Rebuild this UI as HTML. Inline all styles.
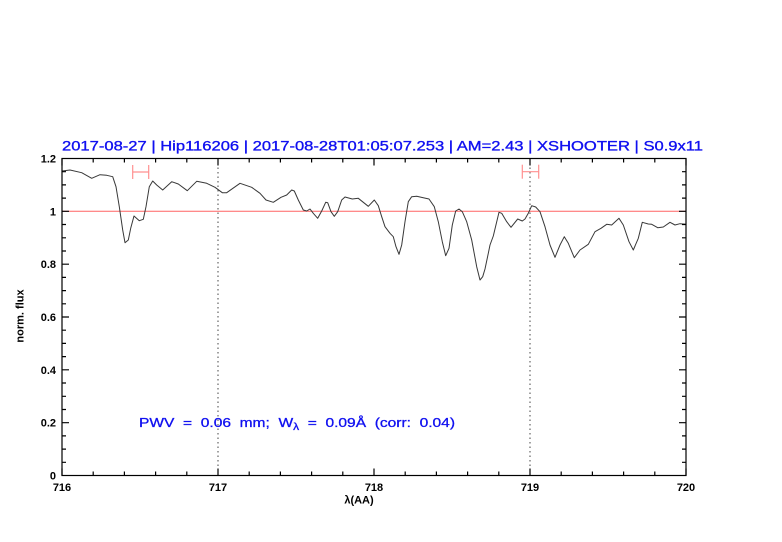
<!DOCTYPE html>
<html><head><meta charset="utf-8"><style>
html,body{margin:0;padding:0;background:#fff;}
svg{display:block;}
text{font-family:"Liberation Sans",sans-serif;}
</style></head><body>
<svg width="782" height="542" viewBox="0 0 782 542" xmlns="http://www.w3.org/2000/svg">
<rect width="782" height="542" fill="#fff"/>
<!-- title -->
<text x="62" y="150.5" font-size="14" fill="#1010f0" stroke="#1010f0" stroke-width="0.35" textLength="641" lengthAdjust="spacingAndGlyphs">2017-08-27 | Hip116206 | 2017-08-28T01:05:07.253 | AM=2.43 | XSHOOTER | S0.9x11</text>
<!-- dotted verticals -->
<line x1="218" y1="158.5" x2="218" y2="475.5" stroke="#444" stroke-width="1" stroke-dasharray="1.5,3"/>
<line x1="530" y1="158.5" x2="530" y2="475.5" stroke="#444" stroke-width="1" stroke-dasharray="1.5,3"/>
<!-- y=1 line -->
<line x1="62" y1="211.3" x2="686" y2="211.3" stroke="#ff6464" stroke-width="1"/>
<!-- error bars -->
<g stroke="#ff9090" stroke-width="1.2" fill="none">
<line x1="132.7" y1="172" x2="148.7" y2="172"/>
<line x1="132.7" y1="165" x2="132.7" y2="179"/>
<line x1="148.7" y1="165" x2="148.7" y2="179"/>
<line x1="522.3" y1="171.7" x2="538.7" y2="171.7"/>
<line x1="522.3" y1="164.7" x2="522.3" y2="178.7"/>
<line x1="538.7" y1="164.7" x2="538.7" y2="178.7"/>
</g>
<!-- spectrum -->
<path fill="none" stroke="#383838" stroke-width="1" stroke-linejoin="round" d="M62,171 L70,170 L81.7,172.7 L91.7,178.3 L100,174.7 L106.7,175.3 L112.7,176.7 L116,186.7 L119.3,206.7 L122.7,230 L125,242.7 L128.3,240 L130.7,228.3 L134,216 L139.3,220.7 L143.3,219.3 L146,206.7 L149.3,186.7 L152.7,181 L156.7,185 L162.7,190 L171.7,181.7 L178.3,184 L187.3,190.7 L196.7,181.3 L206.7,183.3 L215,187.3 L222.3,192.7 L226.7,192.7 L240,183.3 L251.7,187.3 L260,193.3 L266,200 L273.3,202.3 L281,197.3 L286.7,195 L291.7,190 L294.3,191 L298.3,200 L303.3,210 L306.7,211 L310,209 L313.3,213.3 L317.7,218.3 L321.7,211 L325.7,202.3 L327.7,202.7 L331,211.7 L334.3,216.3 L337.7,211.7 L341.7,200 L345,197 L352.3,199 L358.3,198.3 L363.3,202.3 L368.3,206.3 L374.3,200 L378.3,205.7 L381.7,216.7 L385,226.7 L390,233.3 L393.3,236.7 L396,246.7 L399,254.3 L401.7,245 L405,221.7 L408.3,201.7 L411.7,196.7 L416.7,196.3 L423.3,197.7 L429,199 L434.3,206.7 L438.3,221.7 L442.3,241.7 L445.7,255.7 L449,248.3 L452.3,225 L455.7,211 L459,209 L462.3,211.7 L466.7,221.7 L471.7,240 L476.7,266.7 L480,280 L482.7,276.7 L485,269 L488.3,253.3 L490,245 L493.3,236 L499,212.3 L501.7,213.3 L506.7,221.7 L511,227.3 L517.7,219 L522.3,221 L525,219 L528.3,213.3 L531.7,205.7 L535.7,207 L540,211.7 L545,226.7 L550,245 L555,257.3 L560,245 L564.3,236.7 L568.3,243.3 L574.3,257.7 L580,250 L588.3,244.3 L595,231.7 L601,228.3 L606.7,224.3 L611.7,225 L619,218.3 L623.3,225 L629,241.7 L633.3,250 L638.3,238.3 L642.3,222.3 L648.3,224 L651.7,224.3 L657.7,227.7 L663.3,227 L670,222.3 L675,225 L680,223.7 L686,224.3"/>
<!-- axes box -->
<rect x="62" y="158.5" width="624" height="317" fill="none" stroke="#000" stroke-width="1.2"/>
<!-- ticks -->
<g stroke="#000" stroke-width="1.2">
<path d="M62,475.5v-7M218,475.5v-7M374,475.5v-7M530,475.5v-7M686,475.5v-7 M62,158.5v7M218,158.5v7M374,158.5v7M530,158.5v7M686,158.5v7"/>
<path d="M93.2,475.5v-4M124.4,475.5v-4M155.6,475.5v-4M186.8,475.5v-4M249.2,475.5v-4M280.4,475.5v-4M311.6,475.5v-4M342.8,475.5v-4M405.2,475.5v-4M436.4,475.5v-4M467.6,475.5v-4M498.8,475.5v-4M561.2,475.5v-4M592.4,475.5v-4M623.6,475.5v-4M654.8,475.5v-4
M93.2,158.5v4M124.4,158.5v4M155.6,158.5v4M186.8,158.5v4M249.2,158.5v4M280.4,158.5v4M311.6,158.5v4M342.8,158.5v4M405.2,158.5v4M436.4,158.5v4M467.6,158.5v4M498.8,158.5v4M561.2,158.5v4M592.4,158.5v4M623.6,158.5v4M654.8,158.5v4"/>
<path d="M62,422.7h7M62,369.8h7M62,317h7M62,264.2h7M62,211.3h7 M686,422.7h-7M686,369.8h-7M686,317h-7M686,264.2h-7M686,211.3h-7"/>
<path d="M62,462.3h4M62,449.1h4M62,435.9h4M62,409.5h4M62,396.3h4M62,383h4M62,356.6h4M62,343.4h4M62,330.2h4M62,303.8h4M62,290.6h4M62,277.4h4M62,251h4M62,237.8h4M62,224.5h4M62,198.1h4M62,184.9h4M62,171.7h4
M686,462.3h-4M686,449.1h-4M686,435.9h-4M686,409.5h-4M686,396.3h-4M686,383h-4M686,356.6h-4M686,343.4h-4M686,330.2h-4M686,303.8h-4M686,290.6h-4M686,277.4h-4M686,251h-4M686,237.8h-4M686,224.5h-4M686,198.1h-4M686,184.9h-4M686,171.7h-4"/>
</g>
<!-- y labels -->
<g font-size="11" font-weight="bold" fill="#000" text-anchor="end">
<text x="56" y="479.5">0</text>
<text x="56" y="426.7">0.2</text>
<text x="56" y="373.8">0.4</text>
<text x="56" y="321">0.6</text>
<text x="56" y="268.2">0.8</text>
<text x="56" y="215.3">1</text>
<text x="56" y="162.5">1.2</text>
</g>
<!-- x labels -->
<g font-size="11" font-weight="bold" fill="#000" text-anchor="middle">
<text x="62" y="491">716</text>
<text x="218" y="491">717</text>
<text x="374" y="491">718</text>
<text x="530" y="491">719</text>
<text x="686" y="491">720</text>
<text x="359" y="503.5">λ(AA)</text>
</g>
<text transform="translate(23.5,316) rotate(-90)" font-size="11" font-weight="bold" fill="#000" text-anchor="middle">norm. flux</text>
<!-- annotation -->
<text x="139" y="427" font-size="13" fill="#1010f0" stroke="#1010f0" stroke-width="0.3" textLength="316" lengthAdjust="spacingAndGlyphs" xml:space="preserve">PWV  =  0.06  mm;  W<tspan font-size="10" dy="3">λ</tspan><tspan dy="-3">  =  0.09Å  (corr:  0.04)</tspan></text>
</svg>
</body></html>
